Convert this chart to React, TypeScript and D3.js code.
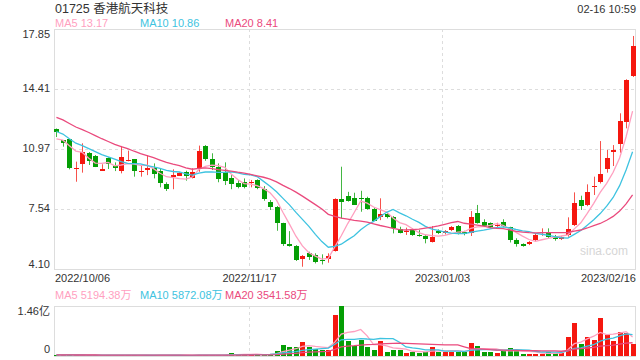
import React from "react";
import * as d3 from "d3";

// ---- data ----
const title = "01725 香港航天科技";
const timeLabel = "02-16 10:59";
const dateTicks = ["2022/10/06", "2022/11/17", "2023/01/03", "2023/02/16"];
const priceTicks = [4.10, 7.54, 10.97, 14.41, 17.85];
const priceLegend = ["MA5 13.17", "MA10 10.86", "MA20 8.41"];
const volLegend = ["MA5 5194.38万", "MA10 5872.08万", "MA20 3541.58万"];
const volTicks = ["0", "1.46亿"];
const volMax = 1.46;

const opens = [12.12, 11.49, 11.55, 9.84, 10.13, 10.76, 10.57, 9.73, 10.46, 10.02, 9.71, 10.29, 10.40, 9.66, 9.79, 9.90, 9.73, 8.97, 9.37, 9.44, 9.64, 9.29, 9.81, 11.15, 10.40, 9.96, 9.64, 9.33, 9.04, 9.07, 9.02, 9.20, 8.67, 7.96, 7.67, 6.72, 5.53, 5.42, 4.66, 5.00, 4.90, 4.64, 4.67, 5.15, 8.11, 8.30, 8.15, 8.15, 8.15, 7.52, 7.09, 7.23, 7.09, 6.37, 6.23, 6.37, 6.05, 5.99, 5.66, 6.27, 6.14, 6.33, 6.56, 6.24, 6.18, 7.29, 6.81, 6.72, 6.60, 6.79, 6.49, 5.76, 5.51, 5.53, 5.76, 6.14, 6.18, 5.95, 5.80, 6.05, 6.62, 8.05, 7.77, 8.78, 9.07, 9.81, 10.78, 11.26, 12.54, 15.17];
const highs = [12.15, 11.49, 11.55, 10.25, 11.30, 10.80, 10.63, 10.10, 10.50, 10.21, 11.15, 10.88, 10.40, 10.06, 10.63, 10.15, 9.83, 9.07, 9.81, 9.64, 9.73, 9.87, 11.17, 11.20, 10.73, 10.15, 10.21, 9.48, 9.20, 9.29, 9.20, 9.24, 8.85, 8.05, 7.71, 6.75, 6.27, 5.47, 4.90, 5.09, 5.00, 4.94, 5.00, 8.15, 9.96, 8.52, 8.47, 8.58, 8.24, 7.63, 8.15, 7.32, 7.13, 6.52, 6.47, 6.43, 6.33, 6.05, 6.56, 6.37, 6.33, 6.56, 6.62, 6.29, 7.42, 7.77, 6.95, 6.77, 6.75, 6.95, 6.52, 5.86, 5.57, 5.70, 6.14, 6.43, 6.43, 6.05, 6.00, 7.06, 8.49, 8.30, 8.95, 9.39, 11.43, 10.92, 11.20, 13.02, 14.97, 17.45];
const lows = [11.66, 11.11, 9.81, 9.10, 9.62, 10.06, 9.94, 9.73, 9.83, 9.71, 9.58, 10.27, 9.39, 9.39, 9.48, 9.29, 8.78, 8.57, 8.67, 9.44, 9.16, 9.29, 9.67, 10.30, 9.77, 9.07, 8.91, 8.67, 8.72, 8.72, 8.78, 8.67, 8.01, 7.48, 6.29, 5.42, 5.38, 4.56, 4.23, 4.62, 4.42, 4.36, 4.46, 5.10, 7.00, 7.96, 7.77, 7.38, 7.50, 6.85, 6.90, 7.00, 6.14, 6.14, 6.05, 6.00, 5.95, 5.57, 5.62, 6.10, 6.08, 6.27, 6.08, 6.03, 5.99, 6.70, 6.50, 6.43, 6.40, 6.49, 5.62, 5.38, 5.38, 5.47, 5.67, 6.00, 5.82, 5.72, 5.76, 5.95, 6.56, 7.48, 7.70, 8.34, 9.00, 9.62, 10.00, 10.76, 12.16, 15.10];
const closes = [11.97, 11.34, 9.90, 9.86, 10.82, 10.30, 9.96, 9.83, 10.10, 9.87, 10.53, 10.35, 9.71, 9.73, 9.90, 9.56, 9.04, 8.70, 9.48, 9.58, 9.44, 9.64, 10.86, 10.38, 9.96, 9.26, 9.14, 8.95, 8.81, 8.81, 9.08, 8.72, 8.09, 7.63, 6.72, 5.51, 5.42, 4.62, 4.84, 4.77, 4.52, 4.60, 4.84, 8.11, 7.96, 8.01, 7.77, 8.11, 7.52, 6.85, 7.23, 7.09, 6.43, 6.18, 6.29, 6.05, 5.99, 5.80, 5.95, 6.14, 6.27, 6.50, 6.18, 6.09, 7.09, 6.72, 6.56, 6.52, 6.62, 6.56, 5.76, 5.53, 5.44, 5.66, 6.05, 6.20, 5.95, 5.80, 5.95, 6.39, 7.90, 7.71, 8.49, 8.83, 9.54, 10.45, 10.90, 12.60, 14.90, 16.90];
// closes before the first visible day (estimated from where the MA lines start)
const priorCloses = [14.2, 14.1, 13.9, 13.8, 13.6, 13.5, 13.4, 13.3, 13.2, 13.0, 12.8, 12.6, 12.4, 12.2, 12.0, 11.7, 11.5, 11.4, 11.2];
// volume in 亿
const volumes = [0.03, 0.02, 0.04, 0.02, 0.03, 0.02, 0.02, 0.02, 0.03, 0.02, 0.03, 0.02, 0.02, 0.02, 0.02, 0.02, 0.03, 0.02, 0.02, 0.02, 0.02, 0.02, 0.04, 0.03, 0.02, 0.02, 0.03, 0.10, 0.04, 0.03, 0.05, 0.04, 0.05, 0.06, 0.16, 0.32, 0.27, 0.25, 0.41, 0.27, 0.20, 0.175, 0.175, 1.20, 1.46, 0.44, 0.30, 0.47, 0.27, 0.175, 0.44, 0.13, 0.175, 0.175, 0.08, 0.13, 0.10, 0.13, 0.27, 0.13, 0.13, 0.13, 0.13, 0.13, 0.39, 0.29, 0.13, 0.13, 0.10, 0.146, 0.24, 0.175, 0.06, 0.06, 0.06, 0.06, 0.13, 0.08, 0.08, 0.56, 0.95, 0.35, 0.56, 0.47, 1.12, 0.61, 0.44, 0.71, 0.68, 0.35];
const priorVolumes = [0.03, 0.03, 0.03, 0.03, 0.03, 0.03, 0.03, 0.03, 0.03, 0.03, 0.03, 0.03, 0.03, 0.03, 0.03, 0.03, 0.03, 0.03, 0.03];

const maPeriods = [5, 10, 20];
const maColors = ["#ff9fbf", "#3ec3e0", "#ea4a7d"];

// ---- layout ----
const W = 640, H = 360;
const L = 55, R = 636;
const PT = 29, PB = 269;
const VT = 306, VB = 356;
const RED = "#f5170f", GREEN = "#059e05";
const FONT = "'Liberation Sans', Arial, 'Noto Sans CJK SC', sans-serif";

function movingAvg(prior: number[], vals: number[], n: number) {
  const all = prior.concat(vals);
  const off = prior.length;
  return vals.map((_, i) => {
    const idx = i + off;
    const s = Math.max(0, idx - n + 1);
    const slice = all.slice(s, idx + 1);
    return d3.mean(slice) as number;
  });
}

export default function App() {
  const n = closes.length;
  const x = d3.scaleBand<number>().domain(d3.range(n)).range([L - 1, R - 1]).paddingInner(0.25);
  const cx = (i: number) => (x(i) as number) + x.bandwidth() / 2;
  const y = d3.scaleLinear().domain([priceTicks[0], priceTicks[priceTicks.length - 1]]).range([PB, PT]);
  const yv = d3.scaleLinear().domain([0, volMax]).range([VB, VT]);
  const bw = 5;

  const priceMA = maPeriods.map((p) => movingAvg(priorCloses, closes, p));
  const volMA = maPeriods.map((p) => movingAvg(priorVolumes, volumes, p));
  const line = d3.line<number>().x((_, i) => cx(i)).y((d) => y(d));
  const vline = d3.line<number>().x((_, i) => cx(i)).y((d) => yv(d));

  const vGrid = [1, 2].map((k) => Math.round(L + ((R - L) * k) / 3) + 0.5);
  const tickX = [L, vGrid[0], vGrid[1], R];
  const anchors = ["start", "middle", "middle", "end"];

  return (
    <svg width={W} height={H} style={{ display: "block", position: "absolute", left: 0, top: 0 }} fontFamily={FONT}>
      <rect x={0} y={0} width={W} height={H} fill="#fff" />
      <text x={L} y={13} fontSize={12.5} fill="#333">{title}</text>
      <text x={R} y={13} fontSize={11} fill="#333" textAnchor="end">{timeLabel}</text>
      {priceLegend.map((t, k) => (
        <text key={t} x={L + k * 85} y={27} fontSize={11} fill={maColors[k]}>{t}</text>
      ))}

      {/* price panel grid */}
      {priceTicks.slice(1, -1).map((v) => (
        <line key={v} x1={L} x2={R} y1={Math.round(y(v)) + 0.5} y2={Math.round(y(v)) + 0.5} stroke="#ddd" strokeDasharray="3,3" />
      ))}
      {vGrid.map((gx) => (
        <line key={gx} x1={gx} x2={gx} y1={PT} y2={PB} stroke="#ddd" strokeDasharray="3,3" />
      ))}
      <rect x={L - 0.5} y={PT + 0.5} width={R - L} height={PB - PT} fill="none" stroke="#ddd" />
      {priceTicks.map((v, k) => {
        const last = k === priceTicks.length - 1;
        const dy = k === 0 ? -4 : last ? 6 : 0;
        return (
          <text key={v} x={50} y={y(v) + dy} fontSize={11} fill="#333" textAnchor="end" dominantBaseline="middle">{v.toFixed(2)}</text>
        );
      })}
      <text x={628} y={255} fontSize={12} fill="#d6d6d6" textAnchor="end">sina.com</text>

      {/* candles */}
      {closes.map((c, i) => {
        const o = opens[i];
        const up = c >= o;
        const col = up ? RED : GREEN;
        const xc = Math.round(cx(i));
        const top = Math.round(y(Math.max(o, c)));
        const bot = Math.round(y(Math.min(o, c)));
        return (
          <g key={i}>
            <line x1={xc + 0.5} x2={xc + 0.5} y1={y(highs[i])} y2={y(lows[i])} stroke={col} strokeWidth={1} opacity={0.75} />
            <rect x={xc - 2} y={top} width={bw} height={Math.max(1, bot - top)} fill={col} />
          </g>
        );
      })}
      {priceMA.map((m, k) => (
        <path key={k} d={line(m) as string} fill="none" stroke={maColors[k]} strokeWidth={1.3} />
      ))}

      {/* date labels */}
      {dateTicks.map((t, k) => (
        <text key={t} x={tickX[k]} y={282} fontSize={11} fill="#333" textAnchor={anchors[k]}>{t}</text>
      ))}

      {/* volume panel */}
      {volLegend.map((t, k) => (
        <text key={t} x={L + k * 85} y={299} fontSize={11} fill={maColors[k]}>{t}</text>
      ))}
      {vGrid.map((gx) => (
        <line key={"v" + gx} x1={gx} x2={gx} y1={VT} y2={VB} stroke="#ddd" strokeDasharray="3,3" />
      ))}
      <rect x={L - 0.5} y={VT + 0.5} width={R - L} height={VB - VT} fill="none" stroke="#ddd" />
      <text x={50} y={yv(volMax) + 6} fontSize={11} fill="#333" textAnchor="end" dominantBaseline="middle">{volTicks[1]}</text>
      <text x={50} y={yv(0) - 6} fontSize={11} fill="#333" textAnchor="end" dominantBaseline="middle">{volTicks[0]}</text>
      {volumes.map((v, i) => {
        const up = closes[i] >= opens[i];
        const xc = Math.round(cx(i));
        const top = Math.round(yv(v));
        return <rect key={i} x={xc - 2} y={top} width={bw} height={Math.max(1, VB - top)} fill={up ? RED : GREEN} />;
      })}
      {volMA.map((m, k) => (
        <path key={"vm" + k} d={vline(m) as string} fill="none" stroke={maColors[k]} strokeWidth={1.3} />
      ))}
    </svg>
  );
}
